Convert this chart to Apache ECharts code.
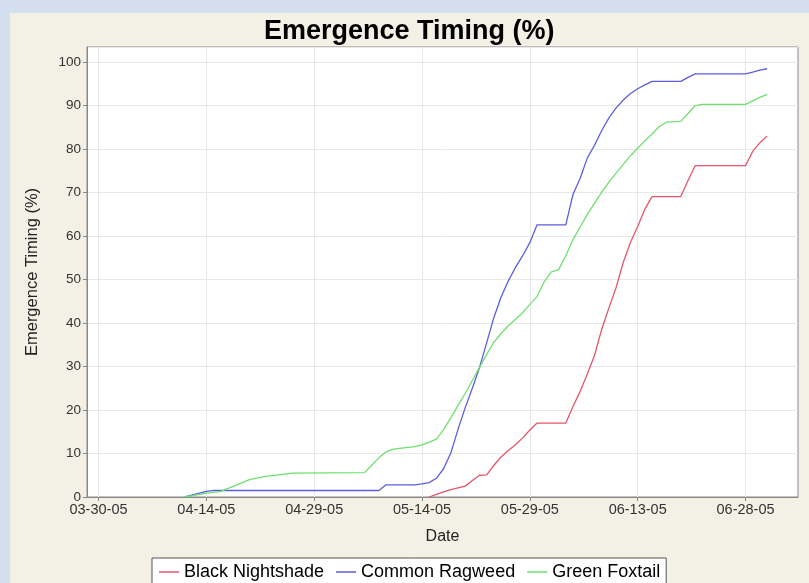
<!DOCTYPE html>
<html>
<head>
    <meta charset="utf-8">
    <title>Emergence Timing</title>
    <script type="text/javascript" src="https://cdn.jsdelivr.net/npm/echarts@6/dist/echarts.min.js"></script>
    <style>
    html, body { margin: 0; padding: 0; background: #d3dfee; }
    .panel { position: absolute; left: 10px; top: 13px; width: 799px; height: 570px; background: #f3f0e6; }
    .main { position: absolute; left: 0; top: 0; width: 809px; height: 583px; }
    </style>
</head>
<body>
    <div class="panel"></div>
    <div id="main" class="main"></div>
    <script type="text/javascript">
    // dates are MM-DD in 2005, values in %
    const nightshadeDates = ['05-15', '05-16', '05-17', '05-18', '05-19', '05-20', '05-21', '05-22', '05-23', '05-24',
        '05-25', '05-26', '05-27', '05-28', '05-29', '05-30', '06-03', '06-04', '06-05', '06-06', '06-07', '06-08',
        '06-09', '06-10', '06-11', '06-12', '06-13', '06-14', '06-15', '06-19', '06-20', '06-21', '06-28', '06-29',
        '06-30', '07-01'];
    const nightshadeValues = [0, 0.6, 1.2, 1.7, 2.1, 2.5, 3.8, 5.0, 5.1, 7.3,
        9.2, 10.7, 12.0, 13.6, 15.4, 17.0, 17.0, 20.8, 24.3, 28.3, 32.6, 38.6,
        43.5, 48.2, 54.0, 58.6, 62.2, 66.2, 69.1, 69.1, 72.8, 76.2, 76.2, 79.5,
        81.5, 83.0];

    const ragweedDates = ['04-11', '04-14', '04-15', '05-08', '05-09', '05-13', '05-14', '05-15', '05-16', '05-17',
        '05-18', '05-19', '05-20', '05-21', '05-22', '05-23', '05-24', '05-25', '05-26', '05-27', '05-28', '05-29',
        '05-30', '06-03', '06-04', '06-05', '06-06', '06-07', '06-08', '06-09', '06-10', '06-11', '06-12', '06-13',
        '06-14', '06-15', '06-19', '06-20', '06-21', '06-28', '06-29', '06-30', '07-01'];
    const ragweedValues = [0, 1.3, 1.5, 1.5, 2.8, 2.8, 3.0, 3.3, 4.3, 6.5,
        10.1, 15.5, 20.5, 25.0, 29.8, 35.5, 41.3, 46.0, 49.7, 52.8, 55.5, 58.5,
        62.6, 62.6, 69.6, 73.3, 78.0, 80.9, 84.3, 87.2, 89.5, 91.3, 92.8, 93.9,
        94.8, 95.6, 95.6, 96.5, 97.3, 97.3, 97.7, 98.2, 98.5];

    const foxtailDates = ['04-11', '04-14', '04-16', '04-18', '04-20', '04-22', '04-26', '05-06', '05-07', '05-08',
        '05-09', '05-10', '05-13', '05-14', '05-15', '05-16', '05-17', '05-18', '05-19', '05-20', '05-21', '05-22',
        '05-23', '05-24', '05-25', '05-26', '05-27', '05-28', '05-29', '05-30', '05-31', '06-01', '06-02', '06-03',
        '06-04', '06-05', '06-06', '06-07', '06-08', '06-09', '06-10', '06-11', '06-12', '06-13', '06-14', '06-15',
        '06-16', '06-17', '06-19', '06-20', '06-21', '06-22', '06-28', '06-29', '06-30', '07-01'];
    const foxtailValues = [0, 0.9, 1.3, 2.6, 4.0, 4.7, 5.5, 5.6, 7.3, 9.0,
        10.4, 11.0, 11.6, 12.0, 12.6, 13.3, 15.5, 18.2, 21.0, 23.8, 26.8, 29.8,
        32.8, 35.6, 37.6, 39.4, 40.9, 42.4, 44.3, 46.1, 49.5, 51.8, 52.3, 55.5,
        59.2, 62.1, 65.0, 67.6, 70.1, 72.4, 74.5, 76.5, 78.5, 80.2, 81.9, 83.5,
        85.2, 86.2, 86.4, 88.2, 90.0, 90.3, 90.3, 91.1, 91.9, 92.6];

    // x tick labels, days after 03-30-05
    const xTickDays = [0, 15, 30, 45, 60, 75, 90];

    const baseTime = Date.UTC(2005, 2, 30);
    const DAY = 86400000;

    function toDay(md) {
        const p = md.split('-');
        return (Date.UTC(2005, +p[0] - 1, +p[1]) - baseTime) / DAY;
    }
    function pad(n) {
        return (n < 10 ? '0' : '') + n;
    }
    function dayLabel(d) {
        const t = new Date(baseTime + Math.round(d) * DAY);
        return pad(t.getUTCMonth() + 1) + '-' + pad(t.getUTCDate()) + '-05';
    }
    function pairs(dates, values) {
        return dates.map(function(d, i) { return [toDay(d), values[i]]; });
    }

    const myChart = echarts.init(document.getElementById('main'));
    const font = 'Liberation Sans, Arial, sans-serif';

    const option = {
        backgroundColor: 'transparent',
        animation: false,
        title: {
            text: 'Emergence Timing (%)',
            left: 259,
            top: 13,
            textStyle: { fontFamily: font, fontSize: 27, fontWeight: 'bold', color: '#000' }
        },
        legend: {
            bottom: -24,
            left: 152,
            padding: [5, 6, 26, 7],
            borderColor: '#555',
            borderWidth: 1,
            backgroundColor: '#fff',
            icon: 'rect',
            itemWidth: 20,
            itemHeight: 1.5,
            itemGap: 12,
            textStyle: { fontFamily: font, fontSize: 18, color: '#000' },
            data: ['Black Nightshade', 'Common Ragweed', 'Green Foxtail']
        },
        grid: {
            left: 87,
            right: 11,
            top: 47,
            bottom: 86,
            show: true,
            backgroundColor: '#fff',
            borderColor: '#888',
            borderWidth: 1
        },
        xAxis: {
            type: 'value',
            min: -1.6,
            max: 97.3,
            name: 'Date',
            nameLocation: 'middle',
            nameGap: 32,
            nameTextStyle: { fontFamily: font, fontSize: 16, color: '#222' },
            axisLine: { show: true, onZero: false, lineStyle: { color: '#888' } },
            axisTick: { show: true, length: 4, customValues: xTickDays, lineStyle: { color: '#888' } },
            axisLabel: {
                customValues: xTickDays,
                fontFamily: font, fontSize: 14.5, color: '#333', margin: 5,
                formatter: dayLabel
            },
            splitLine: { show: true, lineStyle: { color: '#e8e8e8' } }
        },
        yAxis: {
            type: 'value',
            min: 0,
            max: 103.5,
            interval: 10,
            name: 'Emergence Timing (%)',
            nameLocation: 'middle',
            nameGap: 46,
            nameTextStyle: { fontFamily: font, fontSize: 16.5, color: '#222' },
            axisLine: { show: true, onZero: false, lineStyle: { color: '#888' } },
            axisTick: { show: true, length: 4, lineStyle: { color: '#888' } },
            axisLabel: { fontFamily: font, fontSize: 13.5, color: '#333', margin: 6, showMaxLabel: false },
            splitLine: { show: true, lineStyle: { color: '#e8e8e8' } }
        },
        series: [{
            name: 'Black Nightshade',
            type: 'line',
            symbol: 'none',
            lineStyle: { width: 1.3, color: '#e4566e' },
            itemStyle: { color: '#e4566e' },
            data: pairs(nightshadeDates, nightshadeValues)
        }, {
            name: 'Common Ragweed',
            type: 'line',
            symbol: 'none',
            lineStyle: { width: 1.3, color: '#5d5de2' },
            itemStyle: { color: '#5d5de2' },
            data: pairs(ragweedDates, ragweedValues)
        }, {
            name: 'Green Foxtail',
            type: 'line',
            symbol: 'none',
            lineStyle: { width: 1.3, color: '#6fe06f' },
            itemStyle: { color: '#6fe06f' },
            data: pairs(foxtailDates, foxtailValues)
        }]
    };
    myChart.setOption(option);
    </script>
</body>
</html>
